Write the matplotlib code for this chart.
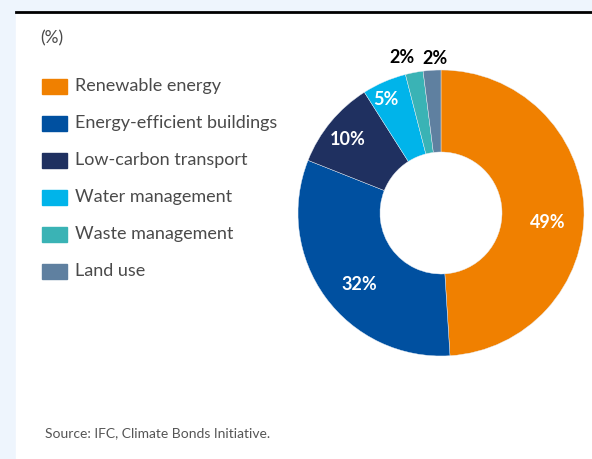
import matplotlib.pyplot as plt
import numpy as np
from matplotlib.patches import Rectangle

categories = ["Renewable energy", "Energy-efficient buildings", "Low-carbon transport",
              "Water management", "Waste management", "Land use"]
shares = [49, 32, 10, 5, 2, 2]
labels = ["49%", "32%", "10%", "5%", "2%", "2%"]
colors = ["#F08000", "#0050A0", "#1F3060", "#00B4EA", "#3AB3B5", "#5F80A0"]

W, H = 592, 459
fig = plt.figure(figsize=(W / 100, H / 100), dpi=100)
ax = fig.add_axes([0, 0, 1, 1])
plt.rcParams['font.family'] = ['Lato', 'DejaVu Sans']

# background: light blue frame, white panel, black rule on top
ax.add_patch(Rectangle((0, 0), W, H, color="#EEF5FD", zorder=0))
ax.add_patch(Rectangle((16, 0), W - 16, H - 12, color="white", zorder=0))
ax.plot([16, W], [H - 12, H - 12], color="black", lw=2, zorder=1)

# donut
cx, cy, R = 441, H - 213, 143
wedges, _ = ax.pie(shares, colors=colors, startangle=90, counterclock=False,
                   center=(cx, cy), radius=R, frame=True,
                   wedgeprops=dict(width=R - 61, edgecolor="#E8EEF6", linewidth=0.3))
ax.set_xlim(0, W)
ax.set_ylim(0, H)
ax.set_aspect("equal")
ax.axis("off")

# percentage labels (radius as fraction of R, then small nudges in px)
radii = [0.73, 0.76, 0.85, 0.89, 1.09, 1.09]
nudge_x = [2, 6, 0, -5, -10, 4]
nudge_y = [-13, -8, -4, -3, 2, -1]
cum = np.cumsum([0] + shares[:-1])
for k, (s, c0) in enumerate(zip(shares, cum)):
    theta = np.radians(90 - 3.6 * (c0 + s / 2))
    x = cx + radii[k] * R * np.cos(theta) + nudge_x[k]
    y = cy + radii[k] * R * np.sin(theta) + nudge_y[k]
    col = "white" if radii[k] < 1 else "black"
    ax.text(x, y, labels[k], ha="center", va="center", color=col,
            fontsize=13, fontweight="bold")

# legend
ax.text(40, H - 38, "(%)", ha="left", va="center", fontsize=12.5, color="#4a4a4a")
for k, name in enumerate(categories):
    y = H - (86 + 37 * k)
    ax.add_patch(Rectangle((42, y - 7.5), 25, 15, color=colors[k]))
    ax.text(75, y, name, ha="left", va="center", fontsize=13, color="#4a4a4a")

ax.text(45, H - 433, "Source: IFC, Climate Bonds Initiative.", ha="left", va="center",
        fontsize=10, color="#555555")

fig.savefig("out.png", dpi=100)
